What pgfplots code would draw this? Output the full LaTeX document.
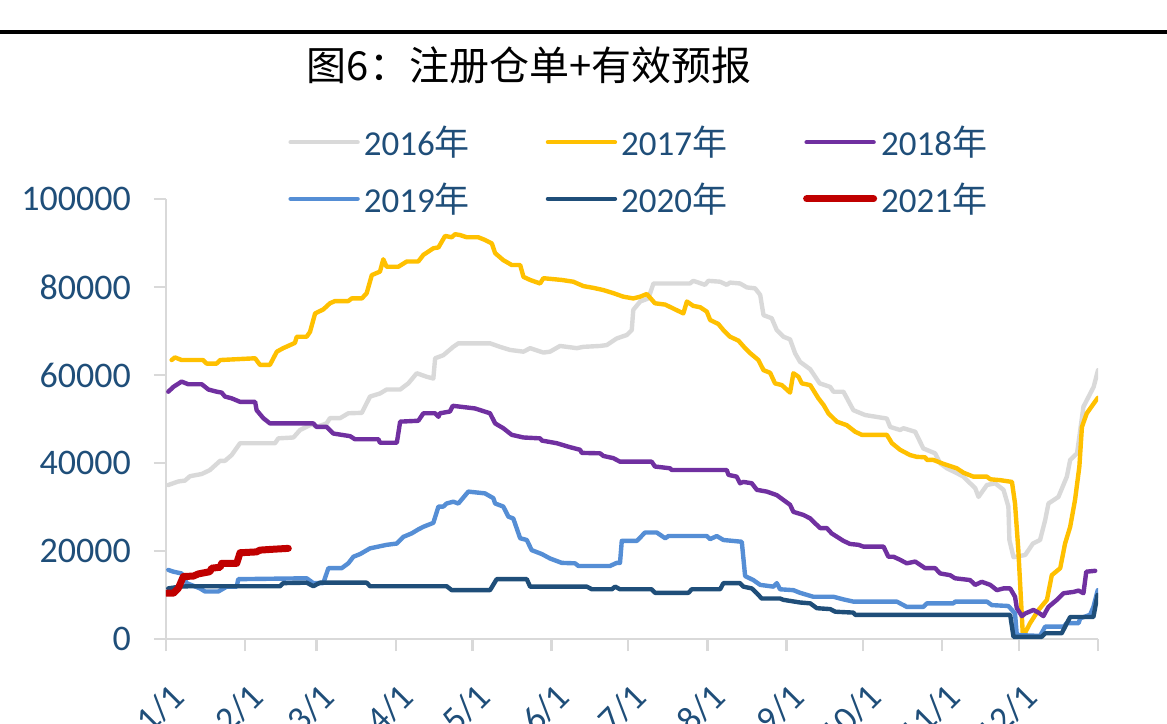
\documentclass[border=0pt]{standalone}
\usepackage{fontspec}
\setmainfont{Carlito}
\newfontfamily\cjk{Noto Sans CJK SC}
\usepackage{pgfplots}
\pgfplotsset{compat=1.18}
\definecolor{c16}{HTML}{D9D9D9}
\definecolor{c17}{HTML}{FFC000}
\definecolor{c18}{HTML}{7030A0}
\definecolor{c19}{HTML}{558ED5}
\definecolor{c20}{HTML}{1F4E79}
\definecolor{c21}{HTML}{C00000}
\definecolor{txt}{HTML}{1F4E79}
\definecolor{axgray}{HTML}{D9D9D9}
\begin{document}
\begin{tikzpicture}
\useasboundingbox (-83pt,-42pt) rectangle (500.5pt,319.5pt);
\begin{axis}[
  scale only axis, width=466pt, height=220pt,
  xmin=0, xmax=365, ymin=0, ymax=100000,
  axis x line=bottom, axis y line=left,
  axis line style={-, axgray, line width=1.2pt},
  xtick={0,31,59,90,120,151,181,212,243,273,304,334,365},
  xticklabels={1/1,2/1,3/1,4/1,5/1,6/1,7/1,8/1,9/1,10/1,11/1,12/1,{}},
  ytick={0,20000,40000,60000,80000,100000},
  scaled y ticks=false,
  /pgf/number format/assume math mode=true,
  /pgf/number format/fixed,
  /pgf/number format/1000 sep={},
  yticklabel style={xshift=-8pt},
  tick style={axgray, line width=1.2pt},
  tick align=outside,
  major tick length=6pt,
  ticklabel style={font=\fontsize{18}{20}\selectfont, text=txt},
  xticklabel style={rotate=45, anchor=north east, xshift=-6.4pt, yshift=-8.1pt},
  every axis plot/.append style={line join=round, line cap=round, line width=2.2pt},
  legend columns=3,
  legend cell align=left,
  legend image code/.code={\draw[#1] (0pt,0pt) -- (33.5pt,0pt);},
  legend style={at={(0.1309,1.176)}, anchor=north west, draw=none, fill=none,
    inner sep=0pt, font=\fontsize{17.5}{21}\selectfont, text=txt,
    row sep=8pt,
    /tikz/every even column/.append style={column sep=36pt}},
]
\addplot[c16] coordinates {
(0.9,35000)(4.8,35800)(7.4,36000)(9.4,37000)(14.0,37500)(17.2,38400)(21.2,40500)(23.1,40500)
(25.7,41800)(29.0,44500)(42.7,44500)(44.0,45600)(49.9,45800)(52.5,47500)(57.1,48800)(59.0,48200)
(62.9,49000)(64.2,50200)(68.2,50200)(71.4,51300)(76.7,51400)(79.9,55100)(83.8,55800)(86.4,56700)
(91.7,56700)(94.9,58100)(98.2,60400)(102.1,59600)(104.7,59200)(105.4,63800)(108.6,64500)(112.5,66400)
(114.5,67200)(126.9,67200)(130.8,66400)(134.7,65700)(140.0,65300)(142.6,66100)(147.8,65100)(150.4,65300)
(154.3,66600)(160.9,66100)(163.5,66400)(170.0,66600)(172.6,66800)(176.5,68300)(180.5,69100)(182.4,70200)
(183.0,74800)(185.7,76700)(188.9,77400)(190.9,80800)(205.2,80800)(206.5,81400)(211.1,80500)(212.4,81400)
(217.0,81200)(219.6,80500)(220.9,81000)(224.8,80800)(227.5,79900)(230.7,79700)(232.7,78200)(234.0,73600)
(237.2,72900)(239.2,70200)(241.8,68700)(244.4,68100)(246.4,64900)(248.3,63000)(252.3,61300)(256.0,58100)
(260.1,57300)(261.4,56200)(265.3,56200)(269.2,52000)(273.8,50900)(282.3,50100)(283.6,48200)(287.5,47500)
(288.8,47900)(293.4,47100)(296.6,43300)(301.2,42200)(303.2,39900)(305.8,38800)(309.7,37700)(312.3,36900)
(314.9,35400)(316.9,34300)(318.2,32300)(321.5,35000)(324.7,35400)(328.0,33900)(329.9,30100)(330.3,22500)
(331.9,18600)(336.5,19100)(339.5,21700)(342.3,22500)(344.3,27000)(345.6,30800)(349.5,32300)(352.8,36900)
(354.1,40700)(356.8,42200)(359.3,52800)(363.3,57300)(365.0,61100)};
\addlegendentry{2016{\cjk 年}}
\addplot[c17] coordinates {
(2.2,63400)(3.5,64000)(6.1,63400)(14.5,63400)(15.9,62600)(19.9,62600)(21.2,63400)(34.9,63800)
(36.8,62300)(40.7,62300)(43.4,65300)(45.9,66100)(48.6,66800)(50.5,67300)(51.2,68700)(55.1,68700)
(56.4,69800)(58.4,74000)(61.6,74900)(64.2,76300)(66.2,76800)(71.4,76800)(72.7,77400)(76.7,77400)
(78.6,78600)(80.6,82700)(83.8,83500)(85.1,86300)(86.4,84600)(91.0,84600)(94.3,85800)(98.8,85800)
(100.8,87300)(104.7,88800)(106.7,89000)(109.3,91600)(111.9,91300)(113.2,92000)(115.2,91800)(117.8,91300)
(122.3,91300)(124.9,90700)(127.6,89900)(128.9,87700)(132.1,86100)(135.4,85000)(138.7,85000)(140.0,82300)
(142.6,81600)(146.5,80800)(147.8,82000)(155.0,81600)(159.5,81200)(163.5,80200)(167.4,79800)(171.3,79300)
(175.2,78600)(179.1,77800)(183.0,77400)(185.7,77800)(188.3,78400)(191.5,76300)(195.5,76000)(198.7,75100)
(202.6,74000)(204.0,76700)(206.5,75700)(209.2,75400)(211.8,74400)(213.1,72500)(216.3,71600)(218.3,70200)
(220.9,68700)(224.2,67800)(226.8,66100)(228.7,65000)(232.0,63400)(234.0,61100)(236.6,60500)(238.5,58100)
(241.2,57700)(244.4,56000)(245.7,60400)(247.7,59600)(249.0,58100)(252.3,57700)(255.5,54700)(257.5,53200)
(259.4,51300)(262.7,49400)(266.6,48600)(269.9,47100)(272.5,46400)(282.3,46400)(284.3,44500)(287.5,43000)
(291.4,41800)(294.0,41400)(297.3,41300)(298.0,40700)(300.5,40700)(304.5,39800)(309.7,38800)(312.3,37800)
(316.2,36900)(321.5,36900)(322.8,36300)(326.7,36100)(331.3,35700)(332.5,30800)(333.8,20200)(335.6,500)
(338.4,3600)(341.7,6600)(345.0,8900)(346.9,14500)(350.2,16100)(352.1,21700)(354.1,25500)(356.0,31600)
(357.7,39200)(358.7,48200)(360.6,51300)(364.9,54800)};
\addlegendentry{2017{\cjk 年}}
\addplot[c18] coordinates {
(0.9,56200)(2.9,57300)(6.1,58500)(8.7,57900)(14.0,57900)(16.6,56700)(19.9,56200)(21.8,56000)
(23.1,55100)(25.7,54700)(29.0,53900)(34.9,53900)(35.5,52000)(38.1,50200)(40.7,49000)(57.7,49000)
(59.0,48200)(62.9,48200)(65.5,46700)(72.1,46100)(74.0,45400)(83.2,45400)(83.8,44600)(90.4,44600)
(91.7,49400)(98.8,49600)(100.8,51300)(105.4,51300)(106.7,50500)(107.3,51300)(111.2,51700)(112.3,53000)
(121.0,52400)(126.9,51300)(128.9,49000)(132.1,47900)(135.4,46400)(140.0,45800)(146.5,45600)(147.2,45100)
(153.0,44500)(158.2,43600)(162.2,43000)(162.8,42300)(170.0,42200)(171.3,41600)(175.2,41100)(177.8,40300)
(190.2,40300)(191.5,39200)(197.4,38800)(198.1,38400)(219.6,38400)(220.3,37300)(223.5,36900)(224.8,35400)
(226.1,35700)(229.4,35400)(231.4,33900)(235.3,33500)(239.2,32700)(241.8,31600)(244.4,30500)(245.7,28900)
(249.6,28200)(252.3,27400)(254.2,26300)(256.2,25200)(258.8,25200)(260.7,24000)(265.3,22300)(267.9,21600)
(271.2,21400)(273.1,21000)(281.0,21000)(282.9,18700)(284.9,18700)(287.5,18000)(290.1,17200)(293.4,17600)
(297.3,16100)(301.2,16100)(303.2,14900)(307.1,14500)(309.0,13800)(314.9,13400)(316.9,12300)(319.5,13000)
(322.8,12300)(325.4,11100)(328.0,11500)(330.6,11500)(332.5,9600)(333.2,7000)(335.2,5200)(336.5,5800)
(339.7,6600)(341.7,6000)(343.6,5200)(345.6,7300)(348.9,8900)(351.5,10400)(355.4,10700)(357.4,11000)
(359.3,10400)(360.4,15300)(363.9,15500)};
\addlegendentry{2018{\cjk 年}}
\addplot[c19] coordinates {
(0.9,15700)(2.9,15300)(6.1,14900)(8.1,12700)(13.3,11500)(15.3,10800)(20.5,10800)(23.8,11900)
(27.7,11900)(28.3,13600)(55.1,13800)(57.7,12700)(61.6,12700)(63.6,16100)(68.8,16100)(71.4,17200)
(73.4,18700)(76.0,19300)(79.9,20600)(86.4,21400)(90.4,21700)(92.9,23200)(96.2,24000)(98.8,24900)
(100.8,25500)(104.7,26400)(106.7,30100)(108.6,30100)(109.9,30800)(112.5,31200)(114.5,30800)(118.4,33500)
(124.9,33100)(128.2,32000)(128.9,30800)(132.1,30100)(134.1,27800)(136.0,27400)(138.7,22900)(141.3,22500)
(143.2,20200)(147.2,19300)(150.4,18300)(155.0,17300)(160.2,17200)(161.5,16600)(173.9,16600)(176.5,17300)
(177.8,17300)(178.5,22300)(184.4,22300)(187.6,24200)(192.2,24200)(195.5,22900)(196.8,23400)(211.8,23400)
(213.1,22700)(215.7,23400)(218.3,22500)(225.5,22100)(226.8,14300)(230.0,13400)(232.7,12300)(237.9,11900)
(239.2,12700)(240.5,11300)(245.7,11100)(248.3,10500)(253.5,9600)(261.4,9600)(265.3,9000)(269.2,8500)
(286.2,8500)(290.1,7300)(296.6,7300)(298.0,8100)(308.4,8100)(309.0,8500)(321.5,8500)(323.4,7700)
(329.9,7500)(332.5,5800)(333.2,900)(342.3,700)(344.3,2800)(351.5,2800)(352.8,3600)(357.4,3600)
(358.0,4700)(361.9,5500)(363.2,7300)(364.9,11100)};
\addlegendentry{2019{\cjk 年}}
\addplot[c20] coordinates {
(0.9,11500)(5.5,11900)(9.4,12000)(44.7,12000)(45.9,12700)(55.1,12800)(57.7,12000)(60.3,12800)
(78.6,12800)(79.9,12000)(109.9,12000)(111.9,11100)(126.9,11100)(129.5,13600)(141.3,13600)(142.6,11900)
(164.8,11900)(166.8,11300)(174.6,11300)(175.9,11900)(177.8,11300)(190.2,11300)(191.5,10500)(204.6,10500)
(205.9,11300)(217.0,11300)(218.3,12700)(224.8,12700)(226.1,11900)(229.4,11500)(231.4,10400)(233.3,9200)
(240.5,9200)(241.8,8900)(248.3,8300)(252.3,8100)(254.9,7000)(260.1,6800)(262.1,6200)(269.2,6000)
(269.9,5500)(330.6,5500)(331.9,500)(343.0,500)(344.3,1300)(350.8,1300)(352.8,3600)(354.1,5000)
(363.2,5000)(364.8,10000)};
\addlegendentry{2020{\cjk 年}}
\addplot[c21, line width=3.5pt] coordinates {
(0.3,10400)(2.9,10400)(4.8,11500)(6.8,14200)(10.7,14300)(12.7,14800)(17.2,15300)(17.9,16100)
(21.2,16300)(21.8,17200)(27.7,17200)(29.0,19600)(35.5,19800)(36.8,20200)(42.0,20400)(47.9,20600)};
\addlegendentry{2021{\cjk 年}}
\end{axis}
\draw[line width=2pt] (-83pt,303.5pt) -- (500.5pt,303.5pt);
\node[font=\cjk\fontsize{20}{24}\selectfont, anchor=center] at (181.5pt,287pt) {图6：注册仓单+有效预报};
\end{tikzpicture}
\end{document}
